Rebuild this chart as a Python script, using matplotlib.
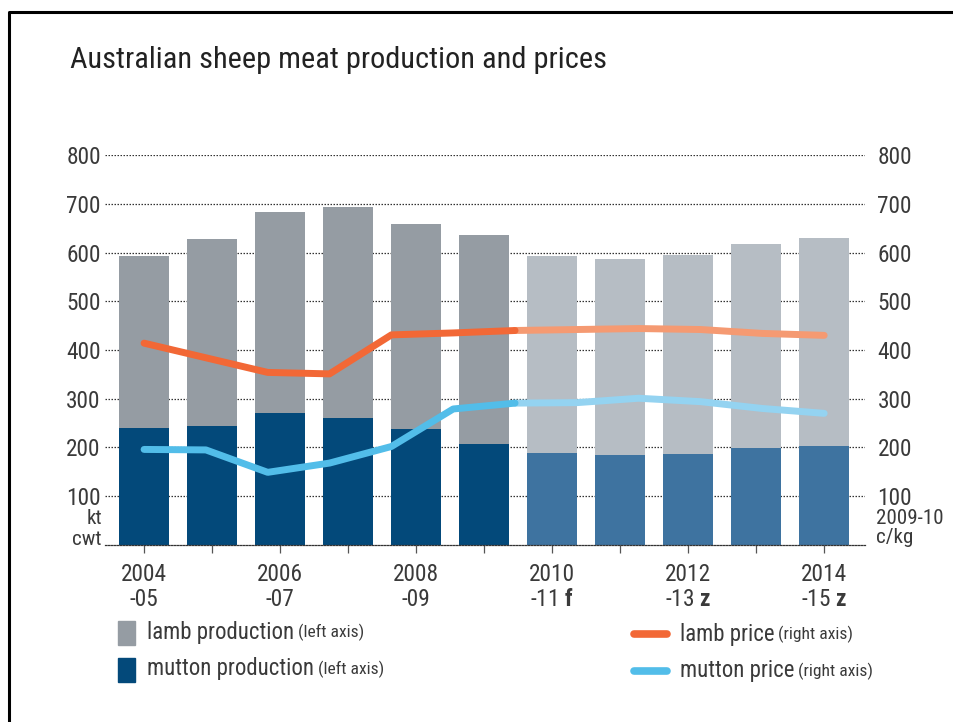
import numpy as np
import matplotlib
matplotlib.use("Agg")
import matplotlib.pyplot as plt
import matplotlib.font_manager as fm
from matplotlib.patches import Rectangle
from matplotlib.lines import Line2D

# pick a narrow font if one is installed (the original uses a condensed face)
narrow = None
for pref in ["Liberation Sans Narrow", "Noto Sans", "Roboto", "Open Sans", "DejaVu Sans", ""]:
    for f in fm.fontManager.ttflist:
        is_narrow = f.stretch != "normal" or "Narrow" in f.name or "Condensed" in f.name
        if is_narrow and f.style == "normal" and f.name.startswith(pref):
            narrow = f
            break
    if narrow is not None:
        break

if narrow is not None:
    family = narrow.name
    plt.rcParams["font.stretch"] = narrow.stretch
else:
    family = "Liberation Sans"
plt.rcParams["font.family"] = [family, "DejaVu Sans"]
plt.rcParams["mathtext.fontset"] = "custom"
plt.rcParams["mathtext.rm"] = family
plt.rcParams["mathtext.bf"] = family + ":bold"

# data
years = ["2004\n-05", "2005\n-06", "2006\n-07", "2007\n-08", "2008\n-09", "2009\n-10",
         "2010\n-11 $\\mathbf{f}$", "2011\n-12 $\\mathbf{z}$", "2012\n-13 $\\mathbf{z}$",
         "2013\n-14 $\\mathbf{z}$", "2014\n-15 $\\mathbf{z}$"]
mutton_prod = [239, 245, 271, 261, 237, 208, 189, 185, 187, 198, 203]
total_prod = [593, 628, 684, 693, 658, 636, 593, 587, 595, 617, 629]
lamb_prod = [t - m for t, m in zip(total_prod, mutton_prod)]
n_actual = 6  # first forecast year is 2010-11

# prices are sampled at 12 evenly spaced points across the bar range
lamb_price = [414, 384, 354, 351, 431, 435, 440, 442, 444, 442, 434, 430]
mutton_price = [196, 195, 149, 168, 202, 279, 291, 292, 301, 294, 280, 270]
n_price_actual = 7

yticks = [100, 200, 300, 400, 500, 600, 700, 800]
title = "Australian sheep meat production and prices"

lamb_col = ["#959ca3"] * n_actual + ["#b6bdc4"] * (len(years) - n_actual)
mutton_col = ["#03497a"] * n_actual + ["#3e73a0"] * (len(years) - n_actual)
txt_col = "#3a3a3a"

fig = plt.figure(figsize=(9.54, 7.22), dpi=100)

# scale all type so the title has the same width as in the original
t_title = fig.text(70 / 954, 1 - 60 / 722, title, fontsize=26, color="#222222",
                   va="center", ha="left")
fig.canvas.draw()
renderer = fig.canvas.get_renderer()
s = min(1.0, 535 / t_title.get_window_extent(renderer).width)
t_title.set_fontsize(26 * s)
FS_TICK = 20 * s
FS_UNIT = 18 * s
FS_LEG = 19.5 * s
FS_NOTE = 15 * s

ax = fig.add_axes([0.1101, 0.2452, 0.7966, 0.5401])
x = np.arange(len(years))

ax.bar(x, mutton_prod, width=0.73, color=mutton_col, zorder=2)
ax.bar(x, lamb_prod, bottom=mutton_prod, width=0.73, color=lamb_col, zorder=2)

ax.set_xlim(-0.574, 10.6)
ax.set_ylim(0, 800)
ax.set_yticks(yticks)
ax.tick_params(axis="y", length=0, labelsize=FS_TICK, labelcolor=txt_col, pad=3)
ax.yaxis.grid(True, color="#333333", linestyle=(0, (1.2, 1.2)), linewidth=0.9, zorder=0)
ax.set_axisbelow(True)
for sp in ["top", "left", "right"]:
    ax.spines[sp].set_visible(False)
ax.spines["bottom"].set_color("#333333")
ax.spines["bottom"].set_linestyle((0, (1.2, 1.2)))
ax.spines["bottom"].set_linewidth(0.9)

ax.set_xticks(x)
ax.set_xticklabels([lab if i % 2 == 0 else "" for i, lab in enumerate(years)],
                   fontsize=FS_TICK, color=txt_col, linespacing=1.1)
ax.tick_params(axis="x", length=6, width=0.9, color="#555555", pad=7)

# price lines on the right axis
ax2 = ax.twinx()
ax2.set_ylim(0, 800)
ax2.set_yticks(yticks)
ax2.tick_params(axis="y", length=0, labelsize=FS_TICK, labelcolor=txt_col, pad=9)
for sp in ax2.spines.values():
    sp.set_visible(False)
px = np.linspace(0, 10, len(lamb_price))
k = n_price_actual
ax2.plot(px[:k], lamb_price[:k], color="#f26836", lw=5, solid_capstyle="round", zorder=4)
ax2.plot(px[k - 1:], lamb_price[k - 1:], color="#f59a72", lw=5, solid_capstyle="round", zorder=3)
ax2.plot(px[:k], mutton_price[:k], color="#52bde9", lw=5, solid_capstyle="round", zorder=4)
ax2.plot(px[k - 1:], mutton_price[k - 1:], color="#94d3f1", lw=5, solid_capstyle="round", zorder=3)

# unit labels
for txt, yb in [("kt", 524), ("cwt", 545)]:
    fig.text(102 / 954, 1 - yb / 722, txt, ha="right", va="baseline", fontsize=FS_UNIT,
             color=txt_col)
for txt, yb in [("2009-10", 524), ("c/kg", 543)]:
    fig.text(876 / 954, 1 - yb / 722, txt, ha="left", va="baseline", fontsize=FS_UNIT,
             color=txt_col)

# legend drawn by hand
fig.canvas.draw()


def legend_label(xp, yp, main, note):
    t = fig.text(xp / 954, 1 - yp / 722, main, fontsize=FS_LEG, color=txt_col, va="center")
    bb = t.get_window_extent(renderer)
    fig.text(bb.x1 / fig.bbox.width + 0.004, 1 - yp / 722, note, fontsize=FS_NOTE,
             color=txt_col, va="center")


fig.patches.append(Rectangle((118 / 954, 1 - 645 / 722), 17 / 954, 24 / 722,
                             transform=fig.transFigure, color="#959ca3"))
fig.patches.append(Rectangle((118 / 954, 1 - 682 / 722), 17 / 954, 24 / 722,
                             transform=fig.transFigure, color="#03497a"))
legend_label(147, 632, "lamb production", "(left axis)")
legend_label(147, 669, "mutton production", "(left axis)")
fig.lines.append(Line2D([634 / 954, 667 / 954], [1 - 634 / 722] * 2, transform=fig.transFigure,
                        color="#f26836", lw=5.5, solid_capstyle="round"))
fig.lines.append(Line2D([634 / 954, 667 / 954], [1 - 671 / 722] * 2, transform=fig.transFigure,
                        color="#52bde9", lw=5.5, solid_capstyle="round"))
legend_label(680, 634, "lamb price", "(right axis)")
legend_label(680, 671, "mutton price", "(right axis)")

# border around the figure
fig.lines.append(Line2D([9 / 954, 9 / 954, 1.0], [0.0, 1 - 12 / 722, 1 - 12 / 722],
                        transform=fig.transFigure, color="black", lw=2.2))

fig.savefig("out.png", dpi=100, facecolor="white")
